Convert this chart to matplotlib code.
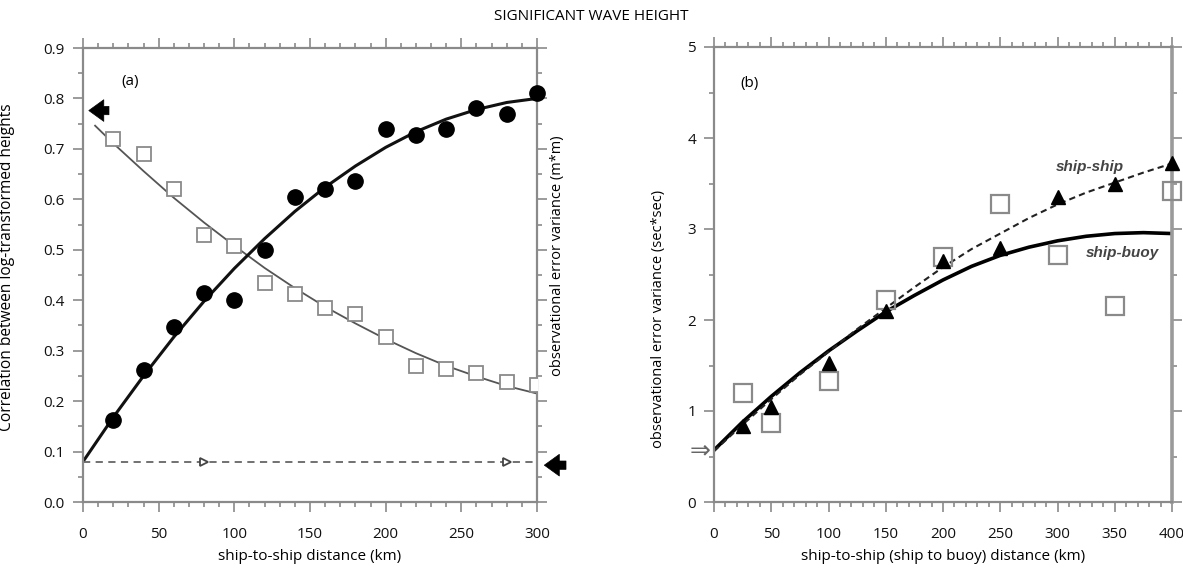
import matplotlib
matplotlib.use('Agg')
import matplotlib.pyplot as plt
from matplotlib.ticker import MultipleLocator

plt.rcParams['font.family'] = ['Open Sans', 'DejaVu Sans']

# ---------------- data: panel (a) ----------------
a_dist = [20, 40, 60, 80, 100, 120, 140, 160, 180, 200, 220, 240, 260, 280, 300]
a_corr = [0.162, 0.262, 0.346, 0.414, 0.401, 0.500, 0.605, 0.621, 0.637, 0.739,
          0.728, 0.739, 0.782, 0.770, 0.810]
a_var = [0.720, 0.690, 0.620, 0.530, 0.508, 0.435, 0.412, 0.385, 0.373, 0.327,
         0.270, 0.264, 0.255, 0.237, 0.232]
a_corr_fit_x = [0, 20, 40, 60, 80, 100, 120, 140, 160, 180, 200, 220, 240, 260, 280, 300]
a_corr_fit = [0.080, 0.168, 0.250, 0.327, 0.398, 0.463, 0.522, 0.576, 0.624, 0.666,
              0.703, 0.734, 0.759, 0.778, 0.792, 0.800]
a_var_fit_x = [8, 20, 40, 60, 80, 100, 120, 140, 160, 180, 200, 220, 240, 260, 280, 300]
a_var_fit = [0.746, 0.711, 0.656, 0.603, 0.554, 0.508, 0.464, 0.424, 0.387, 0.354,
             0.323, 0.295, 0.270, 0.249, 0.230, 0.215]
a_noise_x = [0, 300]
a_noise = [0.079, 0.079]
a_noise_arrow_x = [80, 280]
a_xticks = [0, 50, 100, 150, 200, 250, 300]
a_yticks = [0.0, 0.1, 0.2, 0.3, 0.4, 0.5, 0.6, 0.7, 0.8, 0.9]

# ---------------- data: panel (b) ----------------
b_dist = [25, 50, 100, 150, 200, 250, 300, 350, 400]
b_ship_ship = [0.84, 1.04, 1.53, 2.10, 2.65, 2.79, 3.35, 3.50, 3.73]
b_ship_buoy = [1.20, 0.87, 1.33, 2.22, 2.69, 3.27, 2.71, 2.15, 3.42]
b_fit_x = [0, 25, 50, 75, 100, 125, 150, 175, 200, 225, 250, 275, 300, 325, 350, 375, 400]
b_fit_buoy = [0.57, 0.88, 1.16, 1.42, 1.66, 1.88, 2.09, 2.27, 2.44, 2.59, 2.71, 2.80,
              2.87, 2.92, 2.95, 2.96, 2.95]
b_fit_ship = [0.56, 0.85, 1.13, 1.40, 1.65, 1.90, 2.13, 2.36, 2.58, 2.78, 2.95, 3.12,
              3.27, 3.40, 3.51, 3.62, 3.72]
b_xticks = [0, 50, 100, 150, 200, 250, 300, 350, 400]
b_yticks = [0, 1, 2, 3, 4, 5]

SPINE = '#8a8a8a'
GRAYSQ = '#8a8a8a'
FS = 11

fig = plt.figure(figsize=(11.83, 5.68), dpi=100)
W, H = 1183, 568


def style_axes(ax):
    for s in ax.spines.values():
        s.set_color(SPINE)
        s.set_linewidth(1.6)
    ax.tick_params(which='both', color=SPINE, width=1.2, labelsize=FS,
                   labelcolor='#111111', direction='out',
                   top=True, right=True, labeltop=False, labelright=False)
    ax.tick_params(which='major', length=7, pad=6)
    ax.tick_params(which='minor', length=3.5)
    ax.tick_params(axis='x', which='major', pad=11)


# ---------------- panel (a) ----------------
axa = fig.add_axes([83 / W, 1 - 502 / H, (537 - 83) / W, (502 - 48) / H])
axa.set_xlim(0, 300)
axa.set_ylim(0, 0.9)
axa.set_xticks(a_xticks)
axa.set_yticks(a_yticks)
axa.set_yticklabels([f'{v:.1f}' for v in a_yticks])
axa.xaxis.set_minor_locator(MultipleLocator(10))
axa.yaxis.set_minor_locator(MultipleLocator(0.05))
style_axes(axa)

axa.plot(a_var_fit_x, a_var_fit, color='#555555', lw=1.3, zorder=2)
axa.plot(a_corr_fit_x, a_corr_fit, color='#111111', lw=2.2, zorder=2)
axa.plot(a_dist, a_var, linestyle='none', marker='s', ms=9.5, mfc='white',
         mec=GRAYSQ, mew=1.3, zorder=3)
axa.plot(a_dist, a_corr, linestyle='none', marker='o', ms=11, color='black',
         zorder=4, clip_on=False)
axa.plot(a_noise_x, a_noise, color='#666666', lw=1.3, dashes=(4, 3), zorder=2)
axa.plot(a_noise_arrow_x, [a_noise[0]] * len(a_noise_arrow_x), linestyle='none',
         marker='>', ms=6, mfc='white', mec='#444444', mew=1.3, zorder=3)

arrow_kw = dict(arrowstyle='simple,head_width=1.3,head_length=0.9,tail_width=0.5',
                fc='black', ec='black', lw=0.5, mutation_scale=12)
axa.annotate('', xy=(2, 0.776), xytext=(19, 0.776), arrowprops=arrow_kw,
             annotation_clip=False)
axa.annotate('', xy=(303, 0.073), xytext=(321, 0.073), arrowprops=arrow_kw,
             annotation_clip=False)

axa.text(31, 0.833, '(a)', fontsize=FS, ha='center', va='center')
axa.set_xlabel('ship-to-ship distance (km)', fontsize=FS)
axa.xaxis.set_label_coords(0.5, -0.103)
axa.set_ylabel('Correlation between log-transformed heights', fontsize=11.2)
axa.yaxis.set_label_coords(-0.15, 0.518)
axa.text(1.046, 0.542, 'observational error variance (m*m)', rotation=90,
         fontsize=10.5, ha='center', va='center', transform=axa.transAxes)

# ---------------- panel (b) ----------------
axb = fig.add_axes([714 / W, 1 - 502 / H, (1172 - 714) / W, (502 - 47) / H])
axb.set_xlim(0, 400)
axb.set_ylim(0, 5)
axb.set_xticks(b_xticks)
axb.set_yticks(b_yticks)
axb.xaxis.set_minor_locator(MultipleLocator(10))
axb.yaxis.set_minor_locator(MultipleLocator(0.5))
style_axes(axb)
axb.spines['right'].set_linewidth(2.6)
axb.spines['right'].set_color('#9a9a9a')

axb.plot(b_fit_x, b_fit_buoy, color='black', lw=2.6, zorder=2)
axb.plot(b_fit_x, b_fit_ship, color='#222222', lw=1.5, dashes=(3, 2), zorder=2)
axb.plot(b_dist, b_ship_buoy, linestyle='none', marker='s', ms=12.5, mfc='none',
         mec=GRAYSQ, mew=1.6, zorder=3, clip_on=False)
axb.plot(b_dist, b_ship_ship, linestyle='none', marker='^', ms=10, color='black',
         zorder=4, clip_on=False)
axb.text(-12, 0.57, '\u21d2', fontsize=18, color='#666666', ha='center', va='center',
         family=['DejaVu Sans'])

axb.text(31, 4.6, '(b)', fontsize=FS, ha='center', va='center')
axb.text(328, 3.68, 'ship-ship', fontsize=11, fontweight='bold', style='italic',
         color='#444444', ha='center', va='center', family=['Liberation Sans'])
axb.text(357, 2.74, 'ship-buoy', fontsize=11, fontweight='bold', style='italic',
         color='#444444', ha='center', va='center', family=['Liberation Sans'])
axb.set_xlabel('ship-to-ship (ship to buoy) distance (km)', fontsize=FS)
axb.xaxis.set_label_coords(0.5, -0.103)
axb.set_ylabel('observational error variance (sec*sec)', fontsize=10.5)
axb.yaxis.set_label_coords(-0.105, 0.402)

fig.text(591 / W, 1 - 16 / H, 'SIGNIFICANT WAVE HEIGHT', fontsize=FS,
         ha='center', va='center')

fig.savefig('out.png', dpi=100)
